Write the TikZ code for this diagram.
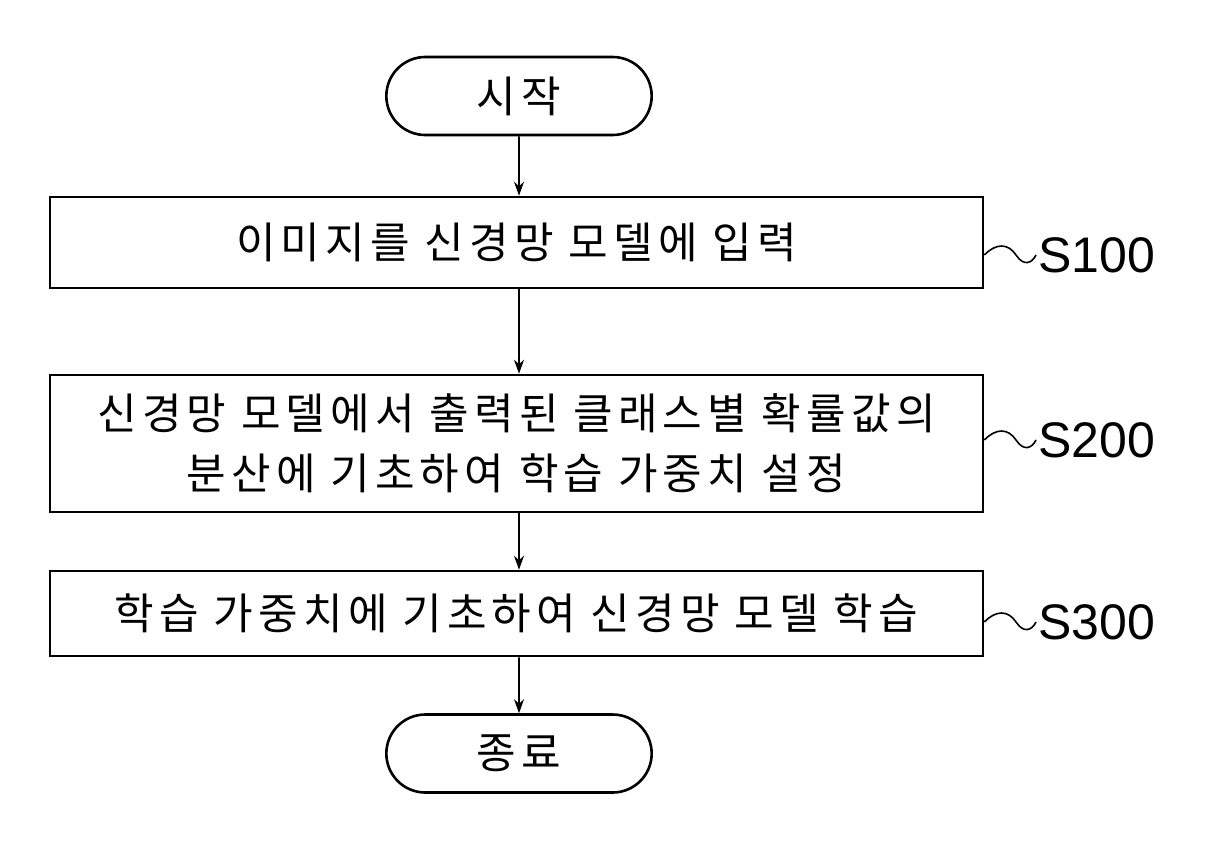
\documentclass[tikz,border=0pt]{standalone}
\usepackage{fontspec}
\setmainfont{Liberation Sans}
\newfontfamily\cjk[LetterSpace=12]{Noto Sans CJK KR}
\usetikzlibrary{shapes.misc,arrows.meta}
\begin{document}
\begin{tikzpicture}[x=1pt,y=-1pt,
  box/.style={draw,line width=2.6pt,minimum width=933pt,inner sep=0pt,align=center,font=\cjk\fontsize{43}{60}\selectfont},
  term/.style={draw,line width=2.6pt,rounded rectangle,minimum width=272pt,minimum height=78pt,font=\cjk\fontsize{43}{50}\selectfont},
  arr/.style={line width=1.8pt,-{Stealth[length=14pt,width=10pt]}},
  lab/.style={font=\fontsize{50}{56}\selectfont,anchor=west,inner sep=2pt},
  wav/.style={line width=1.6pt}]
\useasboundingbox (0,0) rectangle (1222,852);
\node[term] (st) at (519,96) {시작};
\node[box,minimum height=91pt] (b1) at (516.5,242.5) {이미지를 신경망 모델에 입력};
\node[box,minimum height=137pt] (b2) at (516.5,443.5) {신경망 모델에서 출력된 클래스별 확률값의\\분산에 기초하여 학습 가중치 설정};
\node[box,minimum height=85pt] (b3) at (516.5,613.5) {학습 가중치에 기초하여 신경망 모델 학습};
\node[term] (en) at (519,753.5) {종료};
\draw[arr] (st) -- (b1.north -| st);
\draw[arr] (b1.south -| st) -- (b2.north -| st);
\draw[arr] (b2.south -| st) -- (b3.north -| st);
\draw[arr] (b3.south -| st) -- (en);
\foreach \b/\y/\t in {b1/255/S100,b2/440/S200,b3/622/S300}{
  \node[lab] (l\t) at (1036,\y) {\t};
  \draw[wav] (\b.east |- 0,\y) .. controls (996,\y-12) and (1008,\y-12) .. (1016,\y) .. controls (1024,\y+12) and (1032,\y+8) .. (l\t.west);
}
\end{tikzpicture}
\end{document}
